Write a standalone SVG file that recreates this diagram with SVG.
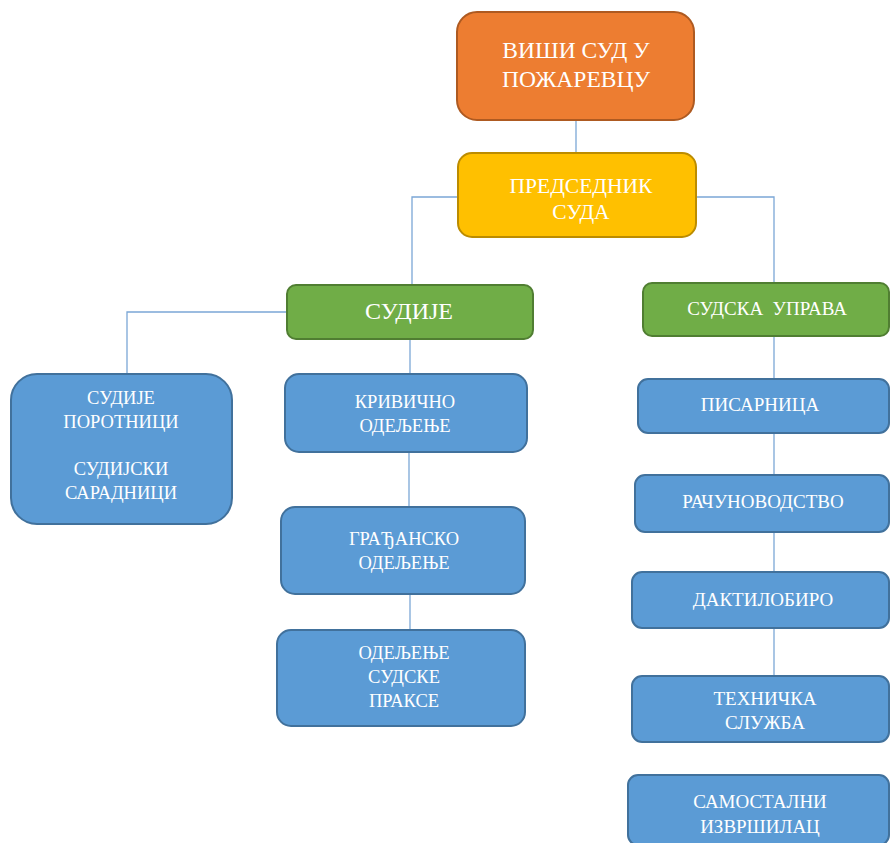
<svg xmlns="http://www.w3.org/2000/svg" width="890" height="843" viewBox="0 0 890 843">
<style>
text{font-family:"Liberation Serif","Times New Roman",serif;fill:#fff;text-anchor:middle}
.or{fill:#ED7D31;stroke:#AE5A21;stroke-width:2}
.ye{fill:#FFC000;stroke:#BC8C00;stroke-width:2}
.gr{fill:#70AD47;stroke:#507E32;stroke-width:2}
.bl{fill:#5B9BD5;stroke:#41719C;stroke-width:2}
.c{fill:none;stroke:#7BA7D6;stroke-width:1.3}
.tl{font-size:18.5px}
.tr{font-size:19px}
</style>
<rect width="890" height="843" fill="#fff"/>
<g id="connectors">
<path class="c" d="M576 120V153"/>
<path class="c" d="M458 197H412V285"/>
<path class="c" d="M696 197H774V283"/>
<path class="c" d="M287 312H127V374"/>
<path class="c" d="M410 339V374"/>
<path class="c" d="M409 452V507"/>
<path class="c" d="M410 594V630"/>
<path class="c" d="M774 336V379"/>
<path class="c" d="M774 433V475"/>
<path class="c" d="M774 532V572"/>
<path class="c" d="M774 628V676"/>
</g>
<g id="n-visi-sud">
<rect class="or" x="457" y="12" width="237" height="108" rx="20"/>
<text x="576" y="58" font-size="23.5">ВИШИ СУД У</text>
<text x="576" y="87" font-size="23.5">ПОЖАРЕВЦУ</text>
</g>
<g id="n-predsednik">
<rect class="ye" x="458" y="153" width="238" height="84" rx="14"/>
<text x="581" y="193" font-size="21.5">ПРЕДСЕДНИК</text>
<text x="581" y="219" font-size="21.5">СУДА</text>
</g>
<g id="n-sudije">
<rect class="gr" x="287" y="285" width="246" height="54" rx="9"/>
<text x="409" y="319" font-size="24">СУДИЈЕ</text>
</g>
<g id="n-sudska-uprava">
<rect class="gr" x="643" y="283" width="246" height="53" rx="9"/>
<text x="767" y="315" font-size="19" xml:space="preserve">СУДСКА  УПРАВА</text>
</g>
<g id="n-porotnici">
<rect class="bl" x="11" y="374" width="221" height="150" rx="26"/>
<text x="121" y="404" class="tl">СУДИЈЕ</text>
<text x="121" y="428" class="tl">ПОРОТНИЦИ</text>
<text x="121" y="475" class="tl">СУДИЈСКИ</text>
<text x="121" y="499" class="tl">САРАДНИЦИ</text>
</g>
<g id="n-krivicno">
<rect class="bl" x="285" y="374" width="242" height="78" rx="14"/>
<text x="405" y="408" class="tl">КРИВИЧНО</text>
<text x="405" y="432" class="tl">ОДЕЉЕЊЕ</text>
</g>
<g id="n-gradjansko">
<rect class="bl" x="281" y="507" width="244" height="87" rx="14"/>
<text x="404" y="545" class="tl">ГРАЂАНСКО</text>
<text x="404" y="569" class="tl">ОДЕЉЕЊЕ</text>
</g>
<g id="n-praksa">
<rect class="bl" x="277" y="630" width="248" height="96" rx="14"/>
<text x="404" y="659" class="tl">ОДЕЉЕЊЕ</text>
<text x="404" y="683" class="tl">СУДСКЕ</text>
<text x="404" y="707" class="tl">ПРАКСЕ</text>
</g>
<g id="n-pisarnica">
<rect class="bl" x="638" y="379" width="251" height="54" rx="10"/>
<text x="760" y="411" class="tr">ПИСАРНИЦА</text>
</g>
<g id="n-racunovodstvo">
<rect class="bl" x="635" y="475" width="254" height="57" rx="10"/>
<text x="763" y="508" class="tr">РАЧУНОВОДСТВО</text>
</g>
<g id="n-daktilobiro">
<rect class="bl" x="632" y="572" width="257" height="56" rx="10"/>
<text x="763" y="606" class="tr">ДАКТИЛОБИРО</text>
</g>
<g id="n-tehnicka">
<rect class="bl" x="632" y="676" width="257" height="66" rx="10"/>
<text x="765" y="705" class="tr">ТЕХНИЧКА</text>
<text x="765" y="729" class="tr">СЛУЖБА</text>
</g>
<g id="n-samostalni">
<rect class="bl" x="628" y="775" width="261" height="70" rx="10"/>
<text x="760" y="808" class="tr">САМОСТАЛНИ</text>
<text x="760" y="833" class="tr">ИЗВРШИЛАЦ</text>
</g>
</svg>
